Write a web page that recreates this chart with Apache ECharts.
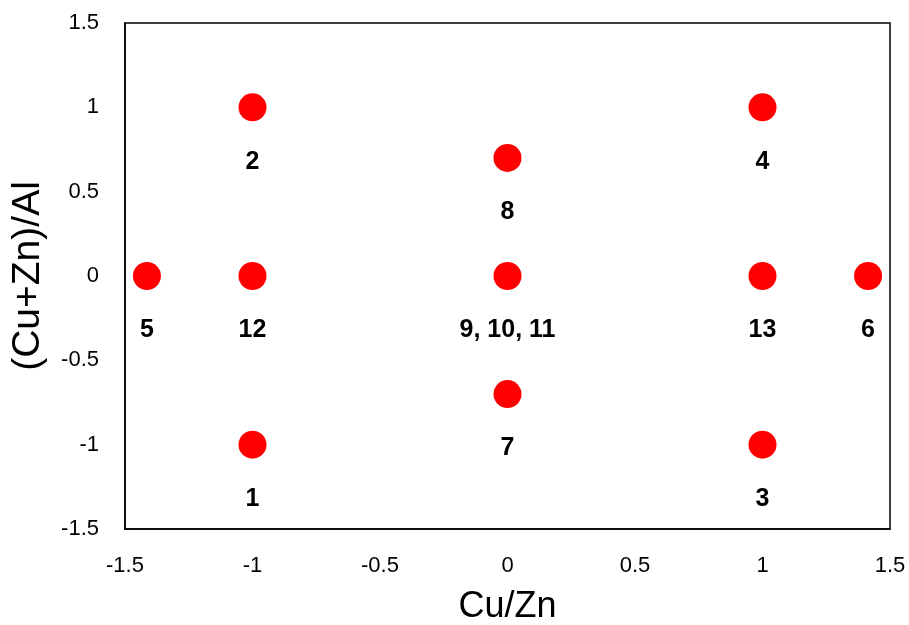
<!DOCTYPE html>
<html>
<head>
<meta charset="utf-8">
<script src="https://cdn.jsdelivr.net/npm/echarts@6/dist/echarts.min.js"></script>
<style>html,body{margin:0;padding:0;background:#fff}#c{width:909px;height:625px}</style>
</head>
<body>
<div id="c"></div>
<script>
const runLabels = ["1", "2", "3", "4", "5", "6", "7", "8", "9, 10, 11", "12", "13"];
const cuZn = [-1, -1, 1, 1, -1.414, 1.414, 0, 0, 0, -1, 1];
const cuZnAl = [-1, 1, -1, 1, 0, 0, -0.7, 0.7, 0, 0, 0];
const xTicks = [-1.5, -1, -0.5, 0, 0.5, 1, 1.5];
const yTicks = [-1.5, -1, -0.5, 0, 0.5, 1, 1.5];

const data = runLabels.map((l, i) => ({ value: [cuZn[i], cuZnAl[i]], name: l }));
const chart = echarts.init(document.getElementById('c'));
chart.setOption({
  animation: false,
  grid: { left: 125, right: 19, top: 23, bottom: 96, show: true, borderColor: '#000', borderWidth: 1.5,
          containLabel: false, outerBoundsMode: 'none' },
  xAxis: {
    type: 'value', min: xTicks[0], max: xTicks[xTicks.length - 1], interval: 0.5,
    name: 'Cu/Zn', nameLocation: 'middle', nameGap: 60,
    nameTextStyle: { fontFamily: 'Liberation Sans', fontSize: 36, color: '#000' },
    axisLine: { show: true, onZero: false, lineStyle: { color: '#000', width: 1.5 } },
    axisTick: { show: false }, splitLine: { show: false },
    axisLabel: { margin: 26, formatter: v => String(v), fontFamily: 'Liberation Sans', fontSize: 22, color: '#000' }
  },
  yAxis: {
    type: 'value', min: yTicks[0], max: yTicks[yTicks.length - 1], interval: 0.5,
    name: '(Cu+Zn)/Al', nameLocation: 'middle', nameGap: 77,
    nameTextStyle: { fontFamily: 'Liberation Sans', fontSize: 39, color: '#000' },
    axisLine: { show: true, onZero: false, lineStyle: { color: '#000', width: 1.5 } },
    axisTick: { show: false }, splitLine: { show: false },
    axisLabel: { margin: 26, formatter: v => String(v), fontFamily: 'Liberation Sans', fontSize: 22, color: '#000' }
  },
  series: [{
    type: 'scatter', data: data, symbol: 'circle', symbolSize: 28,
    itemStyle: { color: '#ff0000', opacity: 1 },
    emphasis: { disabled: true },
    label: {
      show: true, position: 'bottom', distance: 28, formatter: p => p.name,
      fontFamily: 'Liberation Sans', fontWeight: 'bold', fontSize: 25, color: '#000', opacity: 1
    }
  }]
});
</script>
</body>
</html>
